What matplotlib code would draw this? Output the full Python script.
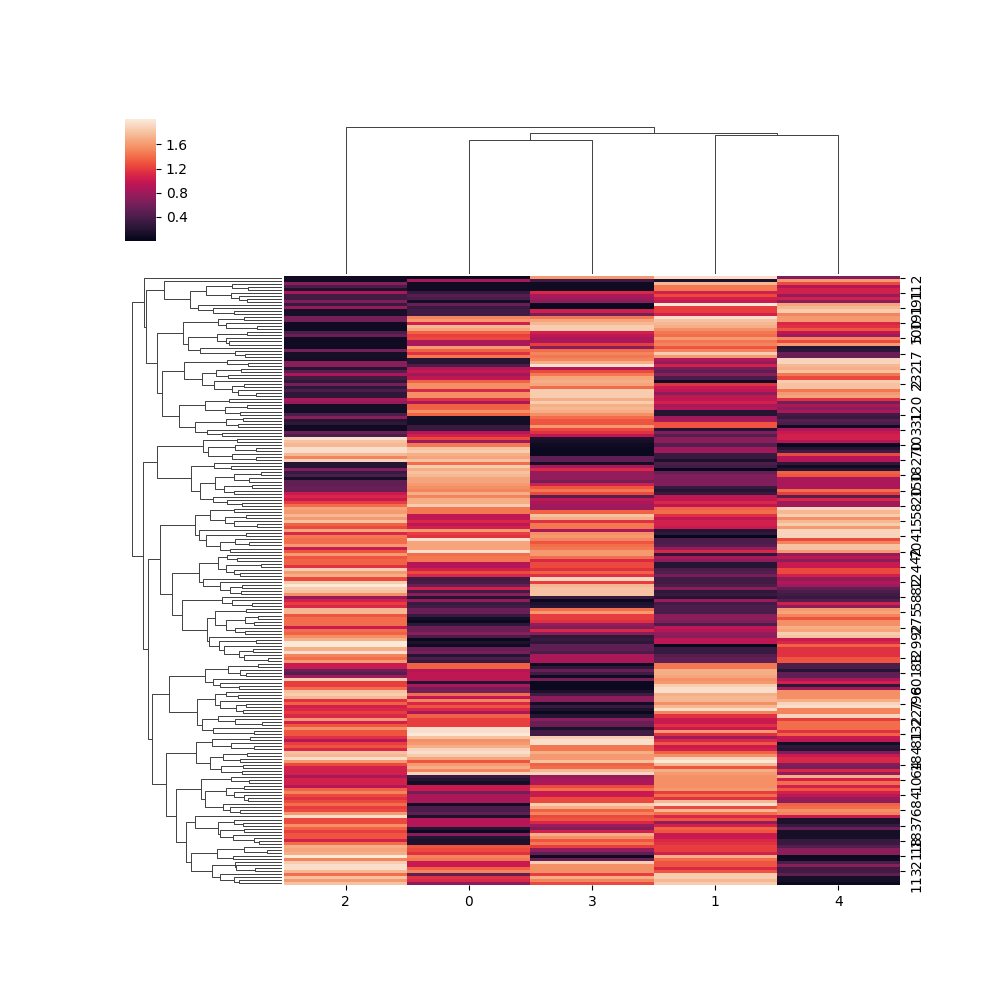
import matplotlib
matplotlib.use("Agg")
import matplotlib.pyplot as plt
import numpy as np
import seaborn as sns
from matplotlib.collections import LineCollection

# ---------- data ----------
col_labels = ["2", "0", "3", "1", "4"]
row_labels = [112, 191, 191, 100, 5, 17, 232, 2, 120, 31,
              103, 70, 182, 150, 20, 58, 15, 704, 42, 124,
              82, 58, 275, 92, 129, 88, 601, 798, 227, 132,
              81, 184, 64, 10, 84, 76, 183, 18, 21, 113]

col_2 = [.08,.08,.7,.4,.15,.85,.35,.35,.65,.3,
         .75,.12,.12,.6,.6,.08,.08,.08,.4,.55,
         .08,.08,.08,.08,.6,.12,.12,.1,.7,.7,
         .2,.45,.85,.35,.25,.6,.25,.4,.25,.25,
         .85,.75,.1,.1,.1,.4,.7,.2,.25,.08,
         .08,.55,.4,1.95,1.8,1.75,1.95,1.95,1.75,1.5,
         1.9,.2,.2,.65,.3,.4,.12,.5,.5,.55,
         .55,1.0,1.1,1.0,1.2,1.4,1.65,1.6,1.75,1.6,
         1.8,1.35,1.25,1.65,1.1,1.45,1.4,1.4,1.6,1.0,
         1.3,1.6,1.3,1.35,1.35,1.15,1.85,1.6,1.7,1.25,
         1.85,2.0,1.85,1.8,1.55,.75,1.05,1.2,1.1,1.75,
         1.75,1.3,1.4,1.4,1.4,1.0,1.4,1.35,1.55,1.7,
         2.0,2.0,1.7,1.95,1.5,1.4,1.6,1.0,1.0,.55,
         .45,.8,1.85,1.2,1.2,1.4,1.8,1.85,1.75,1.15,
         1.35,1.05,1.1,1.2,1.1,1.6,1.05,1.3,1.55,1.3,
         1.3,1.15,.9,1.2,1.3,1.1,1.8,1.75,1.95,1.6,
         1.25,1.05,1.05,1.05,.85,1.05,1.05,.9,1.35,1.5,
         1.25,1.15,1.25,1.4,1.2,1.25,1.6,1.95,1.25,1.25,
         1.55,1.35,1.2,1.3,1.3,1.05,1.4,1.7,1.65,1.7,
         2.0,1.5,1.85,1.95,1.95,1.75,1.4,1.8,1.6,1.8]
col_0 = [.05,.85,.08,.08,.08,.3,.45,.4,.1,.55,
         .3,.35,.35,1.5,1.6,1.05,1.75,1.65,1.35,1.2,
         1.25,.85,.85,1.6,1.35,1.15,1.45,.2,.2,.4,
         .9,1.0,.8,.95,1.35,1.55,1.55,1.1,1.55,1.55,
         1.15,.85,1.35,1.35,1.55,1.35,.1,.1,.1,.3,
         .3,.9,1.05,1.25,.8,1.45,1.8,1.85,1.7,1.65,
         1.8,1.4,1.85,1.7,1.8,1.75,1.65,1.65,1.6,1.55,
         1.5,1.7,1.5,1.7,1.7,1.85,1.45,1.45,.95,.95,
         1.1,.95,1.05,1.6,1.2,1.15,1.95,1.65,1.65,1.65,
         1.95,1.4,1.45,1.45,.9,.9,1.05,1.25,1.1,.35,
         .38,.55,1.05,.35,.7,.2,.75,.3,.35,.55,
         .55,.3,.1,.05,.25,.55,.55,.7,.4,.05,
         .15,.08,.55,.6,.2,.4,.3,1.35,1.35,.9,
         .95,.95,.95,.2,.85,.6,.6,1.4,.95,1.5,
         1.1,1.3,1.1,.85,1.35,1.2,1.2,1.2,1.95,1.95,
         2.0,1.8,1.55,1.6,1.7,1.9,1.95,1.85,1.65,1.3,
         1.6,1.7,1.5,1.9,.3,.2,.1,1.0,1.0,.6,
         .85,.85,.85,.1,.4,.4,.5,.15,.9,.9,
         .9,.2,.05,.7,.2,.15,.15,1.3,1.25,1.15,
         1.5,1.45,1.0,1.0,1.35,1.5,.5,1.15,1.1,.7]
col_3 = [1.6,.35,.08,.08,.08,1.1,.85,.8,.7,.05,
         .05,1.05,.6,1.45,1.65,1.75,1.85,1.85,1.05,.95,
         .85,.85,1.2,.7,1.4,1.5,1.45,1.5,1.7,1.95,
         .9,1.25,1.45,1.65,1.7,1.65,1.4,1.85,1.85,1.85,
         1.7,1.85,1.7,1.75,1.7,1.55,1.4,1.3,1.3,1.6,
         1.25,1.15,.95,.15,.12,.08,.05,.05,.05,.5,
         .5,.1,.85,1.1,.75,.75,.75,.6,1.05,1.3,
         1.45,1.25,.45,.95,.85,.8,.8,1.35,1.8,1.7,
         1.15,1.45,1.45,.85,1.55,1.6,1.5,1.3,1.4,1.45,
         1.6,1.6,1.4,1.1,1.25,1.25,1.15,1.35,1.15,1.9,
         1.2,1.75,1.8,1.8,1.8,.3,.05,.15,.2,1.4,
         1.6,1.2,1.2,1.15,.75,.65,1.1,.7,.25,.3,
         .25,.5,.5,.4,.85,.85,.85,.08,.25,.55,
         .35,.08,.6,.05,.05,.05,.15,.35,.7,.7,
         .1,.3,.15,.05,.2,.7,.55,.55,.15,.35,
         .35,1.85,1.95,1.95,1.45,1.45,1.7,1.6,1.6,1.8,
         1.35,1.4,1.75,1.9,.75,.85,.85,1.25,1.4,1.0,
         1.0,1.25,1.25,1.85,1.7,1.35,1.5,1.25,1.3,1.1,
         .8,.65,1.05,1.7,1.55,1.3,1.45,1.2,.75,.5,
         .08,.55,1.85,1.55,1.55,1.55,1.2,1.7,1.5,1.25]
col_1 = [1.95,.15,1.75,1.45,1.45,1.05,1.25,1.05,1.0,2.0,
         1.2,1.2,1.05,1.95,1.8,1.75,1.7,1.55,1.45,1.4,
         1.6,1.45,1.5,1.3,1.5,1.85,1.6,.9,.75,1.05,
         .6,.5,.7,.4,.08,1.15,1.0,.95,.7,.95,
         .95,1.05,.85,.9,.2,.2,.8,.85,1.3,1.3,
         .2,.65,.45,.7,.7,.45,.8,.8,.3,.3,
         .15,.4,.35,.03,.55,.65,.65,.65,.65,.3,
         .2,.3,.95,.95,1.1,.95,1.35,1.4,1.15,.95,
         1.05,1.05,1.0,.2,.25,.03,.4,.4,.45,.75,
         1.1,.25,.85,.7,.2,.2,.4,.45,.6,.35,
         .35,.4,.7,.25,.3,.2,.8,.35,.4,.4,
         .4,.7,.7,.65,.4,.95,.9,.75,.7,.95,
         .95,.05,.3,.3,.45,.5,.5,1.45,1.45,1.7,
         1.7,1.65,1.55,1.6,1.85,1.95,1.95,1.7,1.75,1.75,
         1.55,1.75,1.95,1.5,1.15,1.0,1.0,1.15,1.0,1.6,
         1.15,.8,1.1,1.3,1.0,1.05,1.35,1.55,1.9,2.0,
         1.75,1.3,1.7,1.6,1.55,1.55,1.55,1.55,1.6,1.2,
         1.4,1.15,1.75,1.95,1.25,1.75,1.4,1.1,1.3,.75,
         1.05,1.35,1.3,1.0,1.0,1.1,1.15,1.2,1.2,1.05,
         1.7,1.4,1.3,1.3,1.1,1.3,1.85,1.85,1.75,1.85]
col_4 = [.65,1.6,1.25,.9,1.05,1.05,.75,1.05,.7,1.65,
         1.75,1.85,1.5,1.6,1.6,1.1,1.15,1.3,.95,.8,
         1.5,1.25,1.6,.2,.25,.55,.55,1.9,1.9,1.75,
         1.7,1.8,1.45,1.25,1.85,1.8,1.8,1.45,1.6,1.65,
         1.15,.6,.85,.7,.85,.35,.3,.45,.4,.08,
         .85,1.0,1.05,1.05,.9,.05,.2,.35,1.25,.9,
         .9,.25,.08,.2,1.35,1.3,.85,.85,.85,.85,
         1.4,1.2,.45,1.1,.8,.8,1.9,1.75,1.85,1.55,
         1.75,1.85,1.6,1.9,1.9,1.9,1.25,1.5,1.8,1.8,
         1.6,.75,.95,.7,1.0,1.0,1.25,1.25,1.05,.75,
         .9,.8,.5,.4,.35,.3,.45,1.05,.7,1.6,
         1.65,1.5,1.3,1.55,1.55,1.7,1.65,1.85,1.8,1.0,
         1.1,1.35,1.15,1.15,1.15,1.3,1.3,.4,.4,.2,
         .5,.5,.85,1.05,.25,.8,1.55,1.55,1.55,1.7,
         1.9,1.95,1.5,1.5,1.9,1.2,1.4,1.4,1.4,1.15,
         1.35,1.0,.95,.1,.25,.2,.65,1.0,1.1,1.1,
         .65,.6,1.1,.75,1.7,1.05,1.4,1.05,1.3,1.05,
         .95,.75,.7,1.35,1.4,1.55,1.5,1.0,.15,.15,
         .3,.55,.12,.12,.12,.3,.3,.45,.7,.7,
         .05,.08,.4,.7,.35,.35,.5,.12,.12,.05]

# Dendrogram merge trees: [merge distance, upper child, lower child]; 0 is a leaf.
C = [353, 0, [275,
     [227, [149, 0, [101, 0, 0]], [152, 0, [128, 0, [104, 0, 0]]]],
     [251, 0, [206, 0, [143, 0, 0]]]]]
E = [296,
     [191, [113, 0, 0], [167, 0, [74, 0, 0]]],
     [281, [194, [104, 0, 0], [167, 0, [158, 0, 0]]],
           [245, 0, [140, 0, [110, 0, 0]]]]]
H = [293, [164, 0, [101, 0, 0]],
     [239, [197, [122, 0, 0], [161, 0, 0]],
           [203, 0, [149, [113, 0, 0], [131, 0, [77, 0, 0]]]]]]
I = [308, [230, [158, 0, 0], [170, [104, 0, 0], [125, 0, 0]]],
     [260, [167, [116, 0, 0], [131, 0, 0]], [224, 0, [179, 0, 0]]]]
A = [413, 0, [407, C, [374, E, [359, H, I]]]]

J = [374,
     [236, [134, 0, 0],
           [221, [140, 0, [77, 0, 0]], [149, 0, [77, 0, 0]]]],
     [272, [203, 0, [152, 0, 0]],
           [245, [200, [143, [62, 0, 0], [98, 0, 0]],
                       [173, [89, 0, 0], [143, 0, 0]]],
                 [206, 0, [164, 0, [119, 0, 0]]]]]]
K1 = [260,
      [215, [143, 0, 0], [170, [107, 0, 0], [143, 0, [74, 0, 0]]]],
      [248, 0, [227, [107, 0, 0],
                [185, [140, 0, [98, 0, 0]], [155, 0, 0]]]]]
K2 = [248,
      [191, [164, 0, [134, 0, 0]],
            [167, [62, 0, 0], [143, 0, [125, 0, 0]]]],
      [236, 0, [185, 0, [155, [119, 0, 0], [122, 0, 0]]]]]
K3 = [299, [179, 0, [149, 0, [89, 0, 0]]],
      [224,
       [200, [107, 0, 0],
             [167, [110, [71, 0, 0], [83, 0, 0]], [140, 0, [110, 0, 0]]]],
       [218, 0, [188, [77, 0, 0],
                 [173, 0, [128, [86, 0, 0], [113, 0, [41, 0, 0]]]]]]]]
K = [365, K1, [331, K2, K3]]
L1 = [338,
      [230, [161, [71, 0, 0], [125, 0, [107, 0, 0]]],
            [206, 0, [185, 0, [128, 0, 0]]]],
      [254, [200, [167, 0, [131, 0, 0]],
                  [185, 0, [137, [107, 0, 0], [116, 0, 0]]]],
            [239, [191, 0, [140, 0, [59, 0, 0]]],
                  [206, 0, [83, 0, 0]]]]]
M1 = [257,
      [209, [95, 0, 0], [152, 0, [83, 0, 0]]],
      [215, [176, [104, 0, 0], [125, 0, 0]],
            [182, [116, 0, 0], [119, 0, 0]]]]
M2 = [242,
      [152, 0, [98, 0, 0]],
      [230, [167, [113, 0, 0], [143, 0, [113, 0, [101, 0, 0]]]],
            [176, 0, [155, 0, [125, 0, 0]]]]]
M3 = [287,
      [260, 0, [191, [143, 0, [116, 0, 0]],
                [185, [113, 0, 0], [146, 0, [83, 0, [68, 0, 0]]]]]],
      [272, [194, [113, 0, [44, 0, 0]], [146, 0, 0]],
            [209, [140, 0, [137, 0, [80, 0, 0]]],
                  [185, 0, [143, 0, [128, 0, 0]]]]]]
row_tree = [449, A, [416, J, [401, K, [389, L1, [347, M1, [317, M2, M3]]]]]]
col_tree = [147, 0, [141, [134, 0, 0], [139, 0, 0]]]

colorbar_ticks = [0.4, 0.8, 1.2, 1.6]
value_min, value_max = 0.0, 2.02

# ---------- helpers ----------
def tree_segments(node, next_leaf):
    """Return (position, height, segments) for a merge tree in leaf order."""
    if node == 0:
        pos = next_leaf[0] + 0.5
        next_leaf[0] += 1
        return pos, 0, []
    h, a, b = node
    pa, ha, sa = tree_segments(a, next_leaf)
    pb, hb, sb = tree_segments(b, next_leaf)
    segs = sa + sb + [[(pa, ha), (pa, h), (pb, h), (pb, hb)]]
    return (pa + pb) / 2, h, segs


W, H_PX = 1000, 994
def box(x0, y0, x1, y1):
    return [x0 / W, 1 - y1 / H_PX, (x1 - x0) / W, (y1 - y0) / H_PX]

fig = plt.figure(figsize=(W / 100, H_PX / 100), dpi=100)
ax_heat = fig.add_axes(box(284, 276, 900, 885))
ax_row = fig.add_axes(box(125, 276, 282, 885))
ax_col = fig.add_axes(box(284, 120, 900, 274))
ax_cbar = fig.add_axes(box(125, 119, 156, 241))

# ---------- heatmap ----------
matrix = np.column_stack([col_2, col_0, col_3, col_1, col_4])
n_rows, n_cols = matrix.shape
assert n_rows == 200
cmap = sns.color_palette("rocket", as_cmap=True)
mesh = ax_heat.pcolormesh(np.arange(n_cols + 1), np.arange(n_rows + 1), matrix,
                          cmap=cmap, vmin=value_min, vmax=value_max, rasterized=True)
ax_heat.set_xlim(0, n_cols)
ax_heat.set_ylim(n_rows, 0)
for s in ax_heat.spines.values():
    s.set_visible(False)
ax_heat.set_xticks(np.arange(n_cols) + 0.5)
ax_heat.set_xticklabels(col_labels)
ax_heat.yaxis.tick_right()
ax_heat.set_yticks(np.arange(0, n_rows, 5) + 0.5)
ax_heat.set_yticklabels([str(v) for v in row_labels], rotation="vertical")

# ---------- dendrograms ----------
leaf = [0]
_, _, row_segs = tree_segments(row_tree, leaf)
assert leaf[0] == n_rows
ax_row.add_collection(LineCollection([[(h, p) for p, h in s] for s in row_segs],
                                     linewidths=.7, colors=".25"))
ax_row.set_xlim(row_tree[0] * 1.05, 0)
ax_row.set_ylim(n_rows, 0)
ax_row.set_axis_off()

leaf = [0]
_, _, col_segs = tree_segments(col_tree, leaf)
ax_col.add_collection(LineCollection(col_segs, linewidths=.7, colors=".25"))
ax_col.set_xlim(0, n_cols)
ax_col.set_ylim(0, col_tree[0] * 1.05)
ax_col.set_axis_off()

# ---------- colorbar ----------
cb = fig.colorbar(mesh, cax=ax_cbar, ticks=colorbar_ticks)
cb.set_ticklabels([f"{t:.1f}" for t in colorbar_ticks])
cb.outline.set_visible(False)

fig.savefig("out.png", dpi=100)
